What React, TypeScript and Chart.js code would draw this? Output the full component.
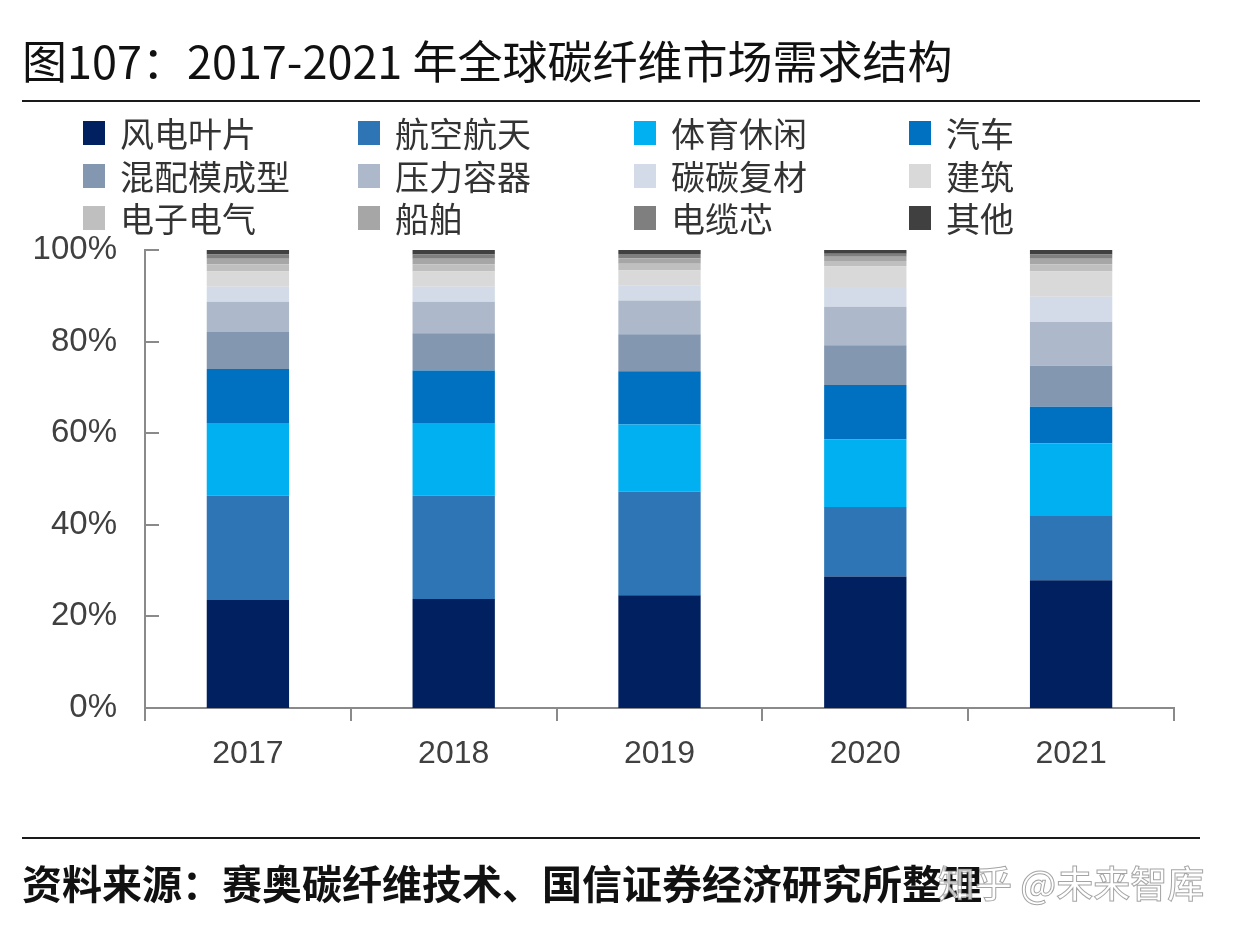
import React, { useEffect, useRef } from "react";
import { Chart, registerables } from "chart.js";

Chart.register(...registerables);

const categories = ["2017", "2018", "2019", "2020", "2021"];
const seriesNames = [
  "风电叶片", "航空航天", "体育休闲", "汽车",
  "混配模成型", "压力容器", "碳碳复材", "建筑",
  "电子电气", "船舶", "电缆芯", "其他",
];
const seriesColors = [
  "#002060", "#2e75b6", "#00b0f0", "#0070c0",
  "#8497b0", "#adb9ca", "#d2dbe7", "#d9d9d9",
  "#bfbfbf", "#a6a6a6", "#7f7f7f", "#404040",
];
const windBlade = [23.6, 23.8, 24.6, 28.7, 27.9];
const aerospace = [22.8, 22.6, 22.6, 15.2, 14.0];
const sports = [15.8, 15.8, 14.7, 14.7, 15.9];
const automotive = [11.8, 11.5, 11.6, 11.9, 8.0];
const molding = [8.1, 8.1, 8.1, 8.7, 8.9];
const pressureVessel = [6.6, 6.9, 7.4, 8.4, 9.6];
const carbonCarbon = [3.3, 3.3, 3.3, 4.3, 5.5];
const construction = [3.3, 3.3, 3.2, 4.5, 5.5];
const electronics = [1.6, 1.6, 1.5, 1.2, 1.6];
const marine = [1.2, 1.2, 1.2, 0.9, 1.2];
const cableCore = [0.9, 0.9, 0.9, 0.7, 0.9];
const others = [1.0, 1.0, 0.9, 0.8, 1.0];
const seriesValues = [
  windBlade, aerospace, sports, automotive,
  molding, pressureVessel, carbonCarbon, construction,
  electronics, marine, cableCore, others,
];
const yTicks = [0, 20, 40, 60, 80, 100];

const title = "图107：2017-2021 年全球碳纤维市场需求结构";
const source = "资料来源：赛奥碳纤维技术、国信证券经济研究所整理";
const watermark = "知乎 @未来智库";

const CJK = '"Noto Sans CJK SC", "Noto Sans", sans-serif';
const AXIS_COLOR = "#8a8a8a";

const inwardTicks = {
  id: "inwardTicks",
  afterDraw(chart: any) {
    const y = chart.scales.y;
    const ctx = chart.ctx;
    const left = chart.chartArea.left;
    ctx.save();
    ctx.strokeStyle = AXIS_COLOR;
    ctx.lineWidth = 2;
    yTicks.forEach((v) => {
      if (v === 0) return;
      const py = Math.round(y.getPixelForValue(v));
      ctx.beginPath();
      ctx.moveTo(left, py);
      ctx.lineTo(left + 14, py);
      ctx.stroke();
    });
    ctx.restore();
  },
};

export default function App() {
  const canvasRef = useRef<HTMLCanvasElement | null>(null);

  useEffect(() => {
    if (!canvasRef.current) return;
    const chart = new Chart(canvasRef.current, {
      type: "bar",
      data: {
        labels: categories,
        datasets: seriesNames.map((name, i) => ({
          label: name,
          data: seriesValues[i],
          backgroundColor: seriesColors[i],
          borderWidth: 0,
          categoryPercentage: 1,
          barPercentage: 0.4,
        })),
      },
      options: {
        responsive: false,
        animation: false,
        devicePixelRatio: 1,
        layout: { padding: { top: 250, right: 60, bottom: 0, left: 0 } },
        plugins: { legend: { display: false }, tooltip: { enabled: false }, title: { display: false } },
        scales: {
          x: {
            stacked: true,
            afterFit: (s: any) => { s.height = 222; },
            grid: {
              display: true,
              offset: true,
              drawOnChartArea: false,
              drawTicks: true,
              tickLength: 13,
              color: AXIS_COLOR,
              lineWidth: 2,
            },
            border: { display: true, color: AXIS_COLOR, width: 2 },
            ticks: {
              color: "#404040",
              padding: 14,
              font: { family: '"Liberation Sans", Arial, sans-serif', size: 32 },
            },
          },
          y: {
            stacked: true,
            min: 0,
            max: 100,
            afterFit: (s: any) => { s.width = 145; },
            grid: { display: false, drawTicks: false },
            border: { display: true, color: AXIS_COLOR, width: 2 },
            ticks: {
              stepSize: 20,
              padding: 28,
              color: "#404040",
              font: { family: '"Liberation Sans", Arial, sans-serif', size: 33 },
              callback: (v: any) => v + "%",
            },
          },
        },
      },
      plugins: [inwardTicks],
    });
    return () => chart.destroy();
  }, []);

  const colLeft = [83, 358, 634, 909];
  const rowCenter = [133, 176, 218];

  return (
    <div style={{ position: "absolute", left: 0, top: 0, width: 1234, height: 930, background: "#ffffff", overflow: "hidden" }}>
      <canvas ref={canvasRef} width={1234} height={930} style={{ position: "absolute", left: 0, top: 0, width: 1234, height: 930 }} />
      <div style={{ position: "absolute", left: 22, top: 30, height: 60, lineHeight: "60px", fontFamily: CJK, fontSize: 45, fontWeight: 400, color: "#111", whiteSpace: "nowrap" }}>
        {title}
      </div>
      <div style={{ position: "absolute", left: 22, top: 100, width: 1178, height: 2, background: "#1a1a1a" }} />
      {seriesNames.map((name, i) => {
        const r = Math.floor(i / 4);
        const c = i % 4;
        return (
          <div key={name} style={{ position: "absolute", left: colLeft[c], top: rowCenter[r] - 22, height: 44, display: "flex", alignItems: "center", whiteSpace: "nowrap" }}>
            <div style={{ width: 22, height: 24, background: seriesColors[i], marginRight: 15 }} />
            <span style={{ fontFamily: CJK, fontSize: 34, fontWeight: 400, color: "#333", lineHeight: "44px" }}>{name}</span>
          </div>
        );
      })}
      <div style={{ position: "absolute", left: 22, top: 837, width: 1178, height: 2, background: "#1a1a1a" }} />
      <div style={{ position: "absolute", left: 22, top: 855, height: 54, lineHeight: "54px", fontFamily: CJK, fontSize: 40, fontWeight: 700, color: "#111", whiteSpace: "nowrap" }}>
        {source}
      </div>
      <div style={{ position: "absolute", left: 938, top: 857, height: 50, lineHeight: "50px", fontFamily: CJK, fontSize: 37, fontWeight: 500, color: "rgba(255,255,255,0.75)", WebkitTextStroke: "1px rgba(90,90,90,0.55)", whiteSpace: "nowrap" }}>
        {watermark}
      </div>
    </div>
  );
}
